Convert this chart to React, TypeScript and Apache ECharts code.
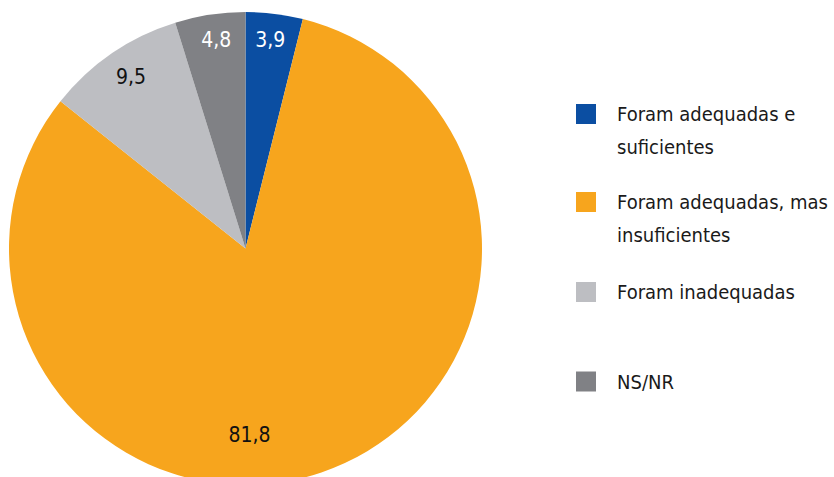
import React, { useEffect, useRef } from "react";
import * as echarts from "echarts";

const categories = [
  "Foram adequadas e suficientes",
  "Foram adequadas, mas insuficientes",
  "Foram inadequadas",
  "NS/NR",
];
const legendLabels = [
  "Foram adequadas e\nsuficientes",
  "Foram adequadas, mas\ninsuficientes",
  "Foram inadequadas",
  "NS/NR",
];
const values = [3.9, 81.8, 9.5, 4.8];
const colors = ["#0b4ea2", "#f7a51d", "#bdbec2", "#808185"];
const labelColors = ["#ffffff", "#111111", "#111111", "#ffffff"];
const labelOffsets = [
  [10, -88],
  [-35, 72],
  [-46, -71],
  [-11, -89],
];
const legendTops = [64.5, 152.5, 275.5, 365];

const FONT = "'DejaVu Sans Condensed', 'Liberation Sans', sans-serif";

export default function App() {
  const ref = useRef<HTMLDivElement>(null);
  useEffect(() => {
    if (!ref.current) return;
    const chart = echarts.init(ref.current, undefined, { renderer: "svg" });
    const legends = categories.map((name, i) => {
      const twoLine = legendLabels[i].includes("\n");
      // a leading blank line keeps the first text line level with the icon
      const text = twoLine ? "\n" + legendLabels[i] : legendLabels[i];
      return {
        show: true,
        data: [name],
        left: 576,
        top: legendTops[i],
        orient: "vertical",
        padding: 0,
        itemWidth: 20,
        itemHeight: 20,
        icon: "rect",
        selectedMode: false,
        formatter: () => text,
        textStyle: {
          fontFamily: FONT,
          fontSize: 20,
          color: "#1a1a1a",
          lineHeight: 33,
          padding: [0, 0, 0, 16],
        },
      };
    });
    chart.setOption({
      animation: false,
      backgroundColor: "#ffffff",
      legend: legends,
      series: [
        {
          type: "pie",
          center: [245.5, 248.5],
          radius: [0, 236.5],
          startAngle: 90,
          clockwise: true,
          avoidLabelOverlap: false,
          itemStyle: { borderWidth: 0 },
          labelLine: { show: false },
          emphasis: { disabled: true },
          data: categories.map((name, i) => ({
            name,
            value: values[i],
            itemStyle: { color: colors[i] },
            label: {
              show: true,
              position: "inside",
              offset: labelOffsets[i],
              color: labelColors[i],
              fontFamily: FONT,
              fontSize: 21,
              formatter: () => values[i].toFixed(1).replace(".", ","),
            },
          })),
        },
      ],
    });
    return () => chart.dispose();
  }, []);
  return (
    <div
      ref={ref}
      style={{ position: "fixed", left: 0, top: 0, width: 834, height: 477 }}
    />
  );
}
